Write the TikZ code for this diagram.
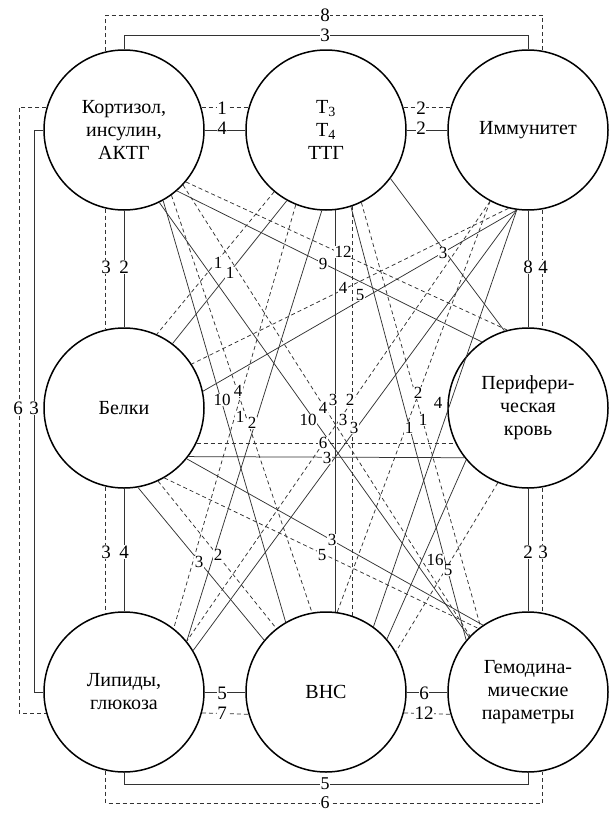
\documentclass[tikz,border=0pt]{standalone}
\usepackage{fontspec}
\setmainfont{Liberation Serif}
\begin{document}
\begin{tikzpicture}[x=1pt,y=-1pt,
  nd/.style={circle,draw,line width=1.5pt,minimum size=160pt,inner sep=0pt,align=center,font=\fontsize{20}{23}\selectfont},
  sl/.style={line width=0.75pt,draw=black!80},
  dl/.style={line width=0.75pt,draw=black!80,dash pattern=on 4pt off 3pt},
  lab/.style={fill=white,inner sep=0.5pt,font=\fontsize{19}{19}\selectfont},
  ilab/.style={fill=white,inner sep=0.5pt,font=\fontsize{17}{17}\selectfont}
]
\useasboundingbox (0,0) rectangle (610,814);
% nodes
\node[nd] (C) at (124,130) {Кортизол,\\инсулин,\\АКТГ};
\node[nd] (T) at (326,130) {T\textsubscript{3}\\T\textsubscript{4}\\ТТГ};
\node[nd] (I) at (528,130) {Иммунитет};
\node[nd] (B) at (124,408) {Белки};
\node[nd] (P) at (528,408) {Перифери-\\ческая\\кровь};
\node[nd] (L) at (124,692) {Липиды,\\глюкоза};
\node[nd] (V) at (326,692) {ВНС};
\node[nd] (H) at (528,692) {Гемодина-\\мические\\параметры};
% corner coordinates
\coordinate (dT) at (0,15);
\coordinate (sT) at (0,35);
\coordinate (dB) at (0,803);
\coordinate (sB) at (0,784);
\coordinate (dA) at (19,0);
\coordinate (sA) at (34,0);
% border connectors
\draw[dl] (C.103) -- (C.103 |- dT) -- (I.80.6 |- dT) -- (I.80.6);
\draw[sl] (C.90) -- (C.90 |- sT) -- (I.90 |- sT) -- (I.90);
\draw[dl] (L.-103) -- (L.-103 |- dB) -- (H.-80.6 |- dB) -- (H.-80.6);
\draw[sl] (L.-90) -- (L.-90 |- sB) -- (H.-90 |- sB) -- (H.-90);
\draw[dl] (C.164) -- (C.164 -| dA) -- (L.-165.5 -| dA) -- (L.-165.5);
\draw[sl] (C.180) -- (C.180 -| sA) -- (L.180 -| sA) -- (L.180);
\draw[dl] (C.16) -- (T.164);
\draw[sl] (C.0) -- (T.180);
\draw[dl] (T.16) -- (I.164);
\draw[sl] (T.0) -- (I.180);
\draw[dl] (C.-103) -- (B.103);
\draw[sl] (C.-90) -- (B.90);
\draw[dl] (B.-103) -- (L.103);
\draw[sl] (B.-90) -- (L.90);
\draw[sl] (I.-90) -- (P.90);
\draw[dl] (I.-80.6) -- (P.80.6);
\draw[sl] (P.-90) -- (H.90);
\draw[dl] (P.-80.6) -- (H.80.6);
\draw[sl] (L.0) -- (V.180);
\draw[dl] (L.-15.2) -- (V.-164.8);
\draw[sl] (V.0) -- (H.180);
\draw[dl] (V.-15.2) -- (H.-164.8);
% interior connectors
\draw[sl] (C.-49.6) -- (P.125.2);
\draw[dl] (C.-40.4) -- (P.105.1);
\draw[sl] (C.-61.5) -- (V.120.7);
\draw[dl] (C.-54.7) -- (V.100);
\draw[sl] (C.-64.1) -- (H.137.4);
\draw[dl] (C.-43) -- (H.136.4);
\draw[sl] (T.-119.7) -- (B.53);
\draw[dl] (T.-130.4) -- (B.66.3);
\draw[sl] (T.-93.7) -- (L.39);
\draw[dl] (T.-112.1) -- (L.52.6);
\draw[sl] (T.-72.5) -- (H.140);
\draw[dl] (T.-64.1) -- (H.126.3);
\draw[sl] (T.-83.5) -- (V.83.5);
\draw[dl] (T.-71) -- (V.71);
\draw[sl] (T.-37.9) -- (P.107.8);
\draw[sl] (I.-98.9) -- (B.12.8);
\draw[dl] (I.-104.7) -- (B.33.1);
\draw[sl] (I.-98.9) -- (L.31.2);
\draw[dl] (I.-118.5) -- (L.39.8);
\draw[sl] (I.-98.9) -- (V.54.7);
\draw[dl] (I.-118.5) -- (V.82.6);
\draw[dl] (B.-26) -- (P.-154);
\draw[sl] (B.-37.7) -- (P.-142.3);
\draw[sl] (B.-80.7) -- (V.140.9);
\draw[dl] (B.-65.4) -- (V.128.3);
\draw[sl] (B.-39.9) -- (H.124.3);
\draw[dl] (B.-60) -- (H.128);
\draw[sl] (P.-140) -- (V.41.4);
\draw[dl] (P.-112.7) -- (V.30);
% border labels
\node[lab] (b1) at (325,15) {8};
\node[lab] (b2) at (325,35) {3};
\node[lab] (b3) at (222,108) {1};
\node[lab] (b4) at (222,128) {4};
\node[lab] (b5) at (421,108) {2};
\node[lab] (b6) at (421,128) {2};
\node[lab] (b7) at (106,267) {3};
\node[lab] (b8) at (124,267) {2};
\node[lab] (b9) at (528,267) {8};
\node[lab] (b10) at (543,267) {4};
\node[lab] (b11) at (18,408) {6};
\node[lab] (b12) at (34,408) {3};
\node[lab] (b13) at (106,552) {3};
\node[lab] (b14) at (124,552) {4};
\node[lab] (b15) at (528,552) {2};
\node[lab] (b16) at (543,552) {3};
\node[lab] (b17) at (222,693) {5};
\node[lab] (b18) at (222,713) {7};
\node[lab] (b19) at (424,693) {6};
\node[lab] (b20) at (424,713) {12};
\node[lab,font=\fontsize{18}{18}\selectfont] (b21) at (325,784) {5};
\node[lab,font=\fontsize{18}{18}\selectfont] (b22) at (325,803) {6};
% interior labels
\node[ilab] (i1) at (323,264) {9};
\node[ilab] (i2) at (343,252) {12};
\node[ilab] (i3) at (222,400) {10};
\node[ilab] (i4) at (238,391) {4};
\node[ilab] (i5) at (308,420) {10};
\node[ilab] (i6) at (323,408) {4};
\node[ilab] (i7) at (230,273) {1};
\node[ilab] (i8) at (218,263) {1};
\node[ilab] (i9) at (252,423) {2};
\node[ilab] (i10) at (240,417) {1};
\node[ilab] (i11) at (409,428) {1};
\node[ilab] (i12) at (423,420) {1};
\node[ilab] (i13) at (333,400) {3};
\node[ilab] (i14) at (350,400) {2};
\node[ilab] (i15) at (443,253) {3};
\node[ilab] (i16) at (360,295) {5};
\node[ilab] (i17) at (343,288) {4};
\node[ilab] (i18) at (354,428) {3};
\node[ilab] (i19) at (343,420) {3};
\node[ilab] (i20) at (438,403) {4};
\node[ilab] (i21) at (418,393) {2};
\node[ilab] (i22) at (323,443) {6};
\node[ilab] (i23) at (327,458) {3};
\node[ilab] (i24) at (199,562) {3};
\node[ilab] (i25) at (218,555) {2};
\node[ilab] (i26) at (322,555) {5};
\node[ilab] (i27) at (332,540) {3};
\node[ilab] (i28) at (435,560) {16};
\node[ilab] (i29) at (448,570) {5};
\end{tikzpicture}
\end{document}
